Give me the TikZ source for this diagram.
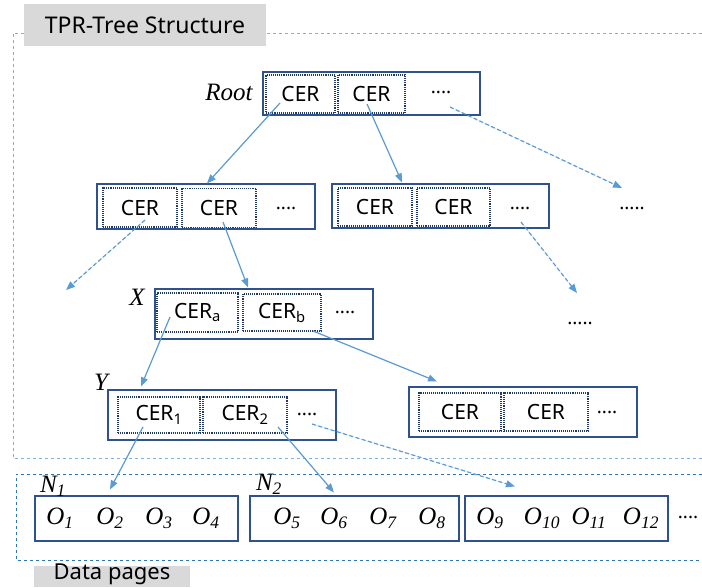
\documentclass[tikz,border=0pt]{standalone}
\usepackage{fontspec}
\setmainfont{Liberation Serif}
\newfontfamily\cerfont{Noto Sans}
\usetikzlibrary{arrows.meta}

\definecolor{linkblue}{HTML}{5B9BD5}
\definecolor{boxblue}{HTML}{2F528F}
\definecolor{cerblue}{HTML}{203864}
\definecolor{treeframe}{HTML}{7FB0DE}
\definecolor{dataframe}{HTML}{2E75B6}
\definecolor{labelgray}{HTML}{D9D9D9}

\begin{document}
\begin{tikzpicture}
[x=1pt,y=-1pt,
  pageBox/.style={draw=boxblue,line width=1.1pt,inner sep=0pt},%
  cerBox/.style={draw=cerblue,densely dotted,line width=1.1pt,inner sep=0pt,
    font=\cerfont\fontsize{21}{24}\selectfont},%
  dotsText/.style={font=\cerfont\bfseries\fontsize{19}{22}\selectfont},%
  nameText/.style={font=\itshape\fontsize{25}{28}\selectfont},%
  titleBox/.style={fill=labelgray,inner sep=0pt,font=\cerfont\fontsize{23}{26}\selectfont},%
  solidLink/.style={-{Triangle[length=9pt,width=7pt]},draw=linkblue,fill=linkblue,line width=1.2pt},%
  dashedLink/.style={solidLink,dash pattern=on 4pt off 2.5pt}]
\useasboundingbox (0,0) rectangle (702,587);
%% frames
\draw[treeframe,dashed,line width=0.8pt] (702,33) -| (13,458) -- (702,458);
\draw[dataframe,dashed,line width=0.8pt] (702,474) -| (16,560) -- (702,560);
\node[titleBox,minimum width=242pt,minimum height=42pt] (treetitle) at (145,25) {TPR-Tree Structure};
\fill[labelgray] (34,566) rectangle (190,587);
\node[inner sep=0pt,font=\cerfont\fontsize{22}{24}\selectfont] (datatitle) at (112,574) {Data pages};
%% tree pages
\foreach \name/\x/\y/\w/\h in {
  root/371.5/93.5/217/43, la/206/206.5/218/45, lb/440.5/206/217/44,
  nx/264/314/218/50, ny/222/415/228/50, lc/523/412/228/50}
{
  \node[pageBox,minimum width=\w pt,minimum height=\h pt] (\name) at (\x,\y) {};
}
%% entries
\foreach \name/\x/\y/\w/\h/\txt in {
  rc1/300.5/94/69/38/CER, rc2/371.5/94/67/38/CER,
  lac1/140/207.5/74/39/CER, lac2/219/208/74/39/CER,
  lbc1/375/207/74/38/CER, lbc2/453.5/207/73/38/CER,
  xca/197.5/312.5/81/39/{CER\textsubscript{a}}, xcb/282/312.5/78/37/{CER\textsubscript{b}},
  yc1/159/415/82/36/{CER\textsubscript{1}}, yc2/245/415/84/36/{CER\textsubscript{2}},
  lcc1/460/412/82/38/CER, lcc2/546/412/84/38/CER}
{
  \node[cerBox,minimum width=\w pt,minimum height=\h pt] (\name) at (\x,\y) {\txt};
}
\foreach \name/\x/\y in {
  rdots/441/92, ladots/286/208, lbdots/520/208, xdots/345/312,
  ydots/307/414, lcdots/607/412, ndots/688/517}
{
  \node[dotsText] (\name) at (\x,\y) {....};
}
\node[dotsText] (farA) at (632,208) {.....};
\node[dotsText] (farB) at (580,323) {.....};
%% labels
\node[nameText] (rootname) at (229,92) {Root};
\node[nameText] (xname) at (137,297) {X};
\node[nameText] (yname) at (101,382) {Y};
%% data pages
\foreach \name/\x/\w in {n1/136.5/203, n2/354.5/209, n3/566.5/203}
{
  \node[pageBox,minimum width=\w pt,minimum height=45pt] (\name) at (\x,518.5) {};
}
\node[nameText] (n1name) at (53,486) {N\textsubscript{1}};
\node[nameText] (n2name) at (269,484) {N\textsubscript{2}};
\foreach \i/\x in {1/60, 2/110, 3/159, 4/206, 5/287, 6/334, 7/383, 8/432,
  9/490, 10/542, 11/589, 12/641}
{
  \node[nameText] (o\i) at (\x,518) {O\textsubscript{\i}};
}
%% free ends
\coordinate (freeA) at (622,188);
\coordinate (freeB) at (66,290);
\coordinate (freeC) at (577,293);
%% links
\draw[solidLink] ([shift={(-20.5,9)}]rc1.center) -- ([xshift=1pt]la.north);
\draw[solidLink] ([shift={(-4.5,10)}]rc2.center) -- ([shift={(-38.5,-1)}]lb.north);
\draw[dashedLink] ([shift={(9,15)}]rdots.center) -- (freeA);
\draw[dashedLink] ([shift={(5,12.5)}]lac1.center) -- (freeB);
\draw[solidLink] ([shift={(4,14)}]lac2.center) -- ([shift={(-16,-1)}]nx.north);
\draw[dashedLink] ([shift={(1,14)}]lbdots.center) -- (freeC);
\draw[solidLink] ([shift={(-27.5,4.5)}]xca.center) -- ([shift={(-81,-3)}]ny.north);
\draw[solidLink] ([shift={(31,18.5)}]xcb.center) -- ([shift={(-86,-5)}]lc.north);
\draw[solidLink] ([shift={(-16,12)}]yc1.center) -- ([shift={(-26.5,-6)}]n1.north);
\draw[solidLink] ([shift={(33,12)}]yc2.center) -- ([shift={(-20.5,-3)}]n2.north);
\draw[dashedLink] ([shift={(5,10)}]ydots.center) -- ([shift={(-51.5,-9)}]n3.north);
\end{tikzpicture}
\end{document}
